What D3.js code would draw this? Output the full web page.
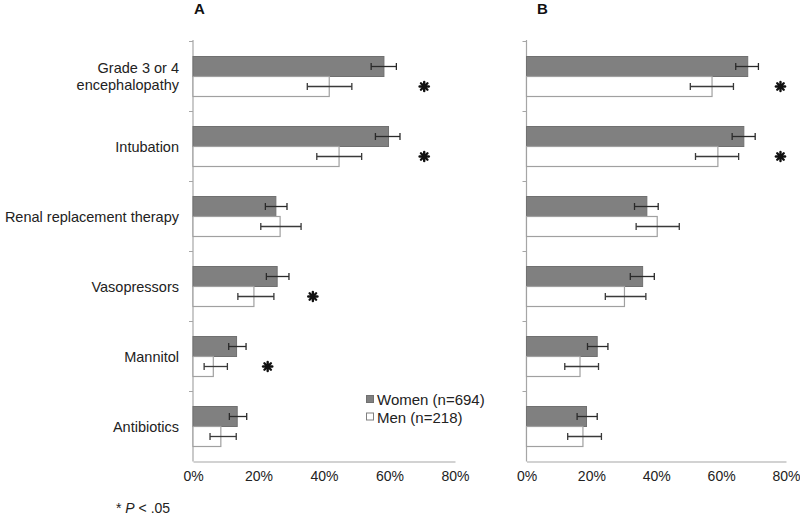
<!DOCTYPE html>
<html><head><meta charset="utf-8">
<script src="https://cdn.jsdelivr.net/npm/d3@7"></script>
<style>body{margin:0;background:#fff}svg{display:block;font-family:Arial,"Liberation Sans",sans-serif}</style>
</head><body>
<script>
const categories = ["Grade 3 or 4\nencephalopathy", "Intubation", "Renal replacement therapy", "Vasopressors", "Mannitol", "Antibiotics"];
const series = ["Women (n=694)", "Men (n=218)"];
const ticks = [0, 20, 40, 60, 80];

const womenA   = [58.3, 59.7, 25.3, 25.7, 13.3, 13.5];
const womenALo = [54.4, 55.7, 22.1, 22.4, 10.9, 11.1];
const womenAHi = [62.1, 63.2, 28.7, 29.3, 16.2, 16.4];
const menA     = [41.6, 44.6, 26.6, 18.6, 6.2, 8.5];
const menALo   = [34.9, 37.8, 20.7, 13.7, 3.4, 5.2];
const menAHi   = [48.5, 51.5, 33.0, 24.7, 10.5, 13.2];
const sigA     = [70.6, 70.6, null, 36.6, 22.8, null];

const womenB   = [68.2, 67.0, 37.1, 35.8, 21.8, 18.5];
const womenBLo = [64.5, 63.4, 33.3, 32.0, 18.8, 15.6];
const womenBHi = [71.5, 70.5, 40.6, 39.4, 25.1, 21.8];
const menB     = [57.2, 59.0, 40.3, 30.2, 16.5, 17.4];
const menBLo   = [50.5, 52.1, 33.8, 24.3, 11.8, 12.7];
const menBHi   = [63.8, 65.4, 47.1, 36.8, 22.2, 23.1];
const sigB     = [78.3, 78.3, null, null, null, null];

const W = 800, H = 517;
const svg = d3.select("body").append("svg").attr("width", W).attr("height", H);

const y = d3.scaleBand().domain(categories).range([41.5, 461.5]).padding(0);
const ySub = d3.scaleBand().domain(["w", "m"]).range([0, y.bandwidth()]).paddingInner(0).paddingOuter(0.75);

const axisColor = "#a6a6a6";

function panel(x0, x1, title, titleX, w, wLo, wHi, m, mLo, mHi, sig, drawLabels) {
  const x = d3.scaleLinear().domain([0, 80]).range([x0, x1]);
  const g = svg.append("g");

  // title
  svg.append("text").attr("x", titleX).attr("y", 13.5).attr("text-anchor", "middle")
    .attr("font-weight", "bold").attr("font-size", 15).attr("fill", "#111").text(title);

  // left axis
  const ya = d3.axisLeft(y).tickSize(0).tickFormat("");
  const yg = g.append("g").attr("transform", `translate(${x0},0)`).call(ya);
  yg.select(".domain").remove();
  yg.append("line").attr("x1", 0).attr("x2", 0).attr("y1", y.range()[0] - 1.5).attr("y2", y.range()[1])
    .attr("stroke", axisColor).attr("stroke-width", 1.2);
  const bounds = categories.map(c => y(c)).concat([y.range()[1]]);
  yg.selectAll("line.bt").data(bounds.slice(0, -1)).enter().append("line").attr("class", "bt")
    .attr("x1", -4).attr("x2", 0).attr("y1", d => d).attr("y2", d => d)
    .attr("stroke", axisColor).attr("stroke-width", 1);

  // bottom axis
  const xa = d3.axisBottom(x).tickValues(ticks).tickSize(0).tickPadding(10).tickFormat(d => d + "%");
  const xg = g.append("g").attr("transform", `translate(0,${y.range()[1]})`).call(xa);
  xg.select(".domain").attr("stroke", axisColor).attr("stroke-width", 1.2);
  xg.selectAll("text").attr("font-size", 14).attr("fill", "#222").attr("font-family", "Arial, 'Liberation Sans', sans-serif");

  const rows = categories.map((c, i) => ({c, w: w[i], wLo: wLo[i], wHi: wHi[i], m: m[i], mLo: mLo[i], mHi: mHi[i], s: sig[i]}));

  // women bars
  g.selectAll("rect.w").data(rows).enter().append("rect").attr("class", "w")
    .attr("x", x(0)).attr("y", d => y(d.c) + ySub("w"))
    .attr("width", d => x(d.w) - x(0)).attr("height", ySub.bandwidth())
    .attr("fill", "#808080").attr("stroke", "#707070").attr("stroke-width", 1);
  // men bars
  g.selectAll("rect.m").data(rows).enter().append("rect").attr("class", "m")
    .attr("x", x(0)).attr("y", d => y(d.c) + ySub("m"))
    .attr("width", d => x(d.m) - x(0)).attr("height", ySub.bandwidth())
    .attr("fill", "#fff").attr("stroke", "#a0a0a0").attr("stroke-width", 1.2);

  // error bars
  function err(key, lo, hi, col) {
    const eg = g.selectAll("g.e" + key).data(rows).enter().append("g").attr("class", "e" + key)
      .attr("transform", d => `translate(0,${y(d.c) + ySub(key) + ySub.bandwidth() / 2})`);
    eg.append("line").attr("x1", d => x(d[lo])).attr("x2", d => x(d[hi])).attr("y1", 0).attr("y2", 0)
      .attr("stroke", col).attr("stroke-width", 1.3);
    eg.append("line").attr("x1", d => x(d[lo])).attr("x2", d => x(d[lo])).attr("y1", -3.5).attr("y2", 3.5)
      .attr("stroke", col).attr("stroke-width", 1.3);
    eg.append("line").attr("x1", d => x(d[hi])).attr("x2", d => x(d[hi])).attr("y1", -3.5).attr("y2", 3.5)
      .attr("stroke", col).attr("stroke-width", 1.3);
  }
  err("w", "wLo", "wHi", "#2a2a2a");
  err("m", "mLo", "mHi", "#3a3a3a");

  // significance asterisks
  const sg = g.selectAll("g.sig").data(rows.filter(d => d.s != null)).enter().append("g").attr("class", "sig")
    .attr("transform", d => `translate(${x(d.s)},${y(d.c) + ySub("m") + ySub.bandwidth() / 2})`);
  [0, 45, 90, 135].forEach(a => {
    const r = 4.6, rad = a * Math.PI / 180;
    sg.append("line").attr("x1", -r * Math.cos(rad)).attr("y1", -r * Math.sin(rad))
      .attr("x2", r * Math.cos(rad)).attr("y2", r * Math.sin(rad))
      .attr("stroke", "#111").attr("stroke-width", 2.4).attr("stroke-linecap", "round");
  });
  sg.append("circle").attr("r", 2.6).attr("fill", "#111");

  if (drawLabels) {
    const lg = svg.append("g");
    rows.forEach(d => {
      const lines = d.c.split("\n");
      const cy = y(d.c) + y.bandwidth() / 2;
      const lh = 17.5;
      lines.forEach((ln, k) => {
        lg.append("text").attr("x", 179).attr("y", cy + (k - (lines.length - 1) / 2) * lh)
          .attr("dy", "0.36em").attr("text-anchor", "end").attr("font-size", 14.5).attr("fill", "#222").text(ln);
      });
    });
  }
  return x;
}

const xA = panel(193, 455, "A", 199.5, womenA, womenALo, womenAHi, menA, menALo, menAHi, sigA, true);
panel(526.5, 786, "B", 542.5, womenB, womenBLo, womenBHi, menB, menBLo, menBHi, sigB, false);

// legend
const leg = svg.append("g").attr("transform", "translate(366,400)");
series.forEach((s, i) => {
  const row = leg.append("g").attr("transform", `translate(0,${i * 17.5})`);
  row.append("rect").attr("x", 0.5).attr("y", -4.5).attr("width", 7).attr("height", 7)
    .attr("fill", i === 0 ? "#808080" : "#fff").attr("stroke", i === 0 ? "#707070" : "#808080").attr("stroke-width", 1);
  row.append("text").attr("x", 11).attr("y", 0).attr("dy", "0.35em").attr("font-size", 15).attr("fill", "#222").text(s);
});

// footnote
const fn = svg.append("text").attr("x", 116).attr("y", 513).attr("font-size", 14).attr("fill", "#222");
fn.append("tspan").text("* ");
fn.append("tspan").attr("font-style", "italic").text("P");
fn.append("tspan").text(" < .05");
</script>
</body></html>
